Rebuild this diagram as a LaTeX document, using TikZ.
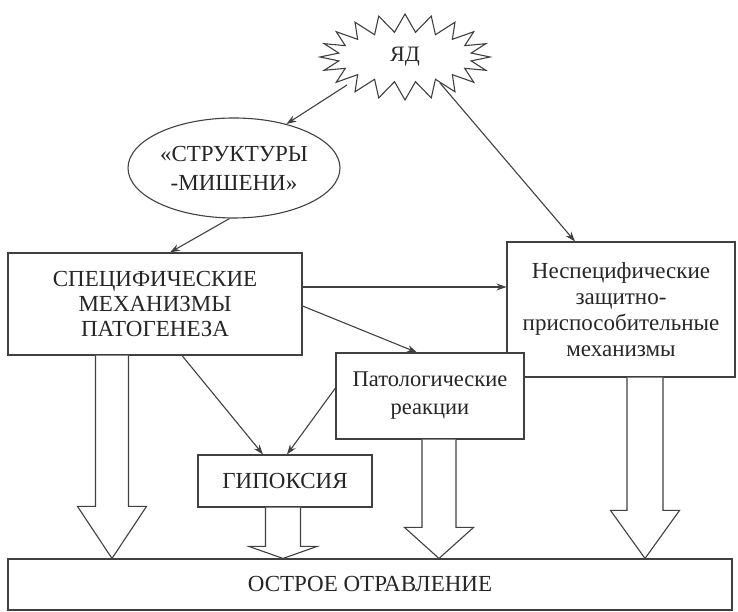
\documentclass[tikz,border=0pt]{standalone}
\usepackage{fontspec}
\setmainfont{Liberation Serif}
\usetikzlibrary{shapes.geometric, shapes.symbols, arrows.meta, calc}

\tikzset{
  box/.style={rectangle, draw=black!75, fill=white, line width=1.1pt, align=center, inner sep=0pt},
  conn/.style={-{Stealth[length=10pt, width=7pt]}, draw=black!75, line width=1.1pt},
  fat/.style={draw=black!75, fill=white, line width=1.1pt, line join=miter},
}

% hollow block arrow: x, half shaft, half head, head length, from, to
\newcommand{\fatarrow}[6]{%
  \draw[fat] let \p1=(#5.south), \p2=(#6.north) in
    (#1-#2,\y1) -- (#1-#2,\y2+#4) -- (#1-#3,\y2+#4) -- (#1,\y2)
    -- (#1+#3,\y2+#4) -- (#1+#2,\y2+#4) -- (#1+#2,\y1);}

\begin{document}
\begin{tikzpicture}[x=1pt, y=1pt, font=\fontsize{23}{26}\selectfont, text=black!85]
    \useasboundingbox (0,0) rectangle (738,612);
    % Nodes
    \node (yad) [starburst, draw=black!75, line width=1.1pt, minimum width=170pt, minimum height=86pt, starburst points=20, starburst point height=18pt, random starburst=0, inner sep=0pt, font=\fontsize{22}{26}\selectfont] at (405,555) {ЯД};
    \node (target) [ellipse, draw=black!75, line width=1.1pt, minimum width=212pt, minimum height=100pt, inner sep=0pt, align=center, font=\fontsize{23}{29}\selectfont] at (234,444) {«СТРУКТУРЫ\\-МИШЕНИ»};
    \node (spec) [box, minimum width=294pt, minimum height=102pt, font=\fontsize{23}{25}\selectfont] at (155,308) {СПЕЦИФИЧЕСКИЕ\\МЕХАНИЗМЫ\\ПАТОГЕНЕЗА};
    \node (nonspec) [box, minimum width=228pt, minimum height=135pt, font=\fontsize{23}{26}\selectfont] at (621,302.5) {Неспецифические\\защитно-\\приспособительные\\механизмы};
    \node (patho) [box, minimum width=188pt, minimum height=86pt, font=\fontsize{22.5}{28}\selectfont] at (430,216) {Патологические\\реакции};
    \node (hypoxia) [box, minimum width=174pt, minimum height=52pt] at (285,131) {ГИПОКСИЯ};
    \node (acute) [box, minimum width=724pt, minimum height=51pt] at (370,27.5) {ОСТРОЕ ОТРАВЛЕНИЕ};
    % Arrows
    \draw[conn] ([shift={(-58,-28)}]yad.center) -- (target.40);
    \draw[conn] ([shift={(35,-26)}]yad.center) -- ([xshift=-46pt]nonspec.north);
    \draw[conn] (target.265) -- ([xshift=15pt]spec.north);
    \draw[conn] ([yshift=17pt]spec.east) -- ([yshift=17pt]spec.east -| nonspec.west);
    \draw[conn] ([yshift=-2pt]spec.east) -- ([xshift=-13pt]patho.north);
    \draw[conn] ([xshift=27pt]spec.south) -- ([xshift=-22pt]hypoxia.north);
    \draw[conn] ([yshift=8pt]patho.west) -- ([xshift=2pt]hypoxia.north);
    % Block arrows
    \fatarrow{112}{16.5}{34.5}{52}{spec}{acute}
    \fatarrow{283}{17.5}{34}{12}{hypoxia}{acute}
    \fatarrow{439}{17}{34.5}{31}{patho}{acute}
    \fatarrow{645}{18}{34.5}{48}{nonspec}{acute}
\end{tikzpicture}
\end{document}
